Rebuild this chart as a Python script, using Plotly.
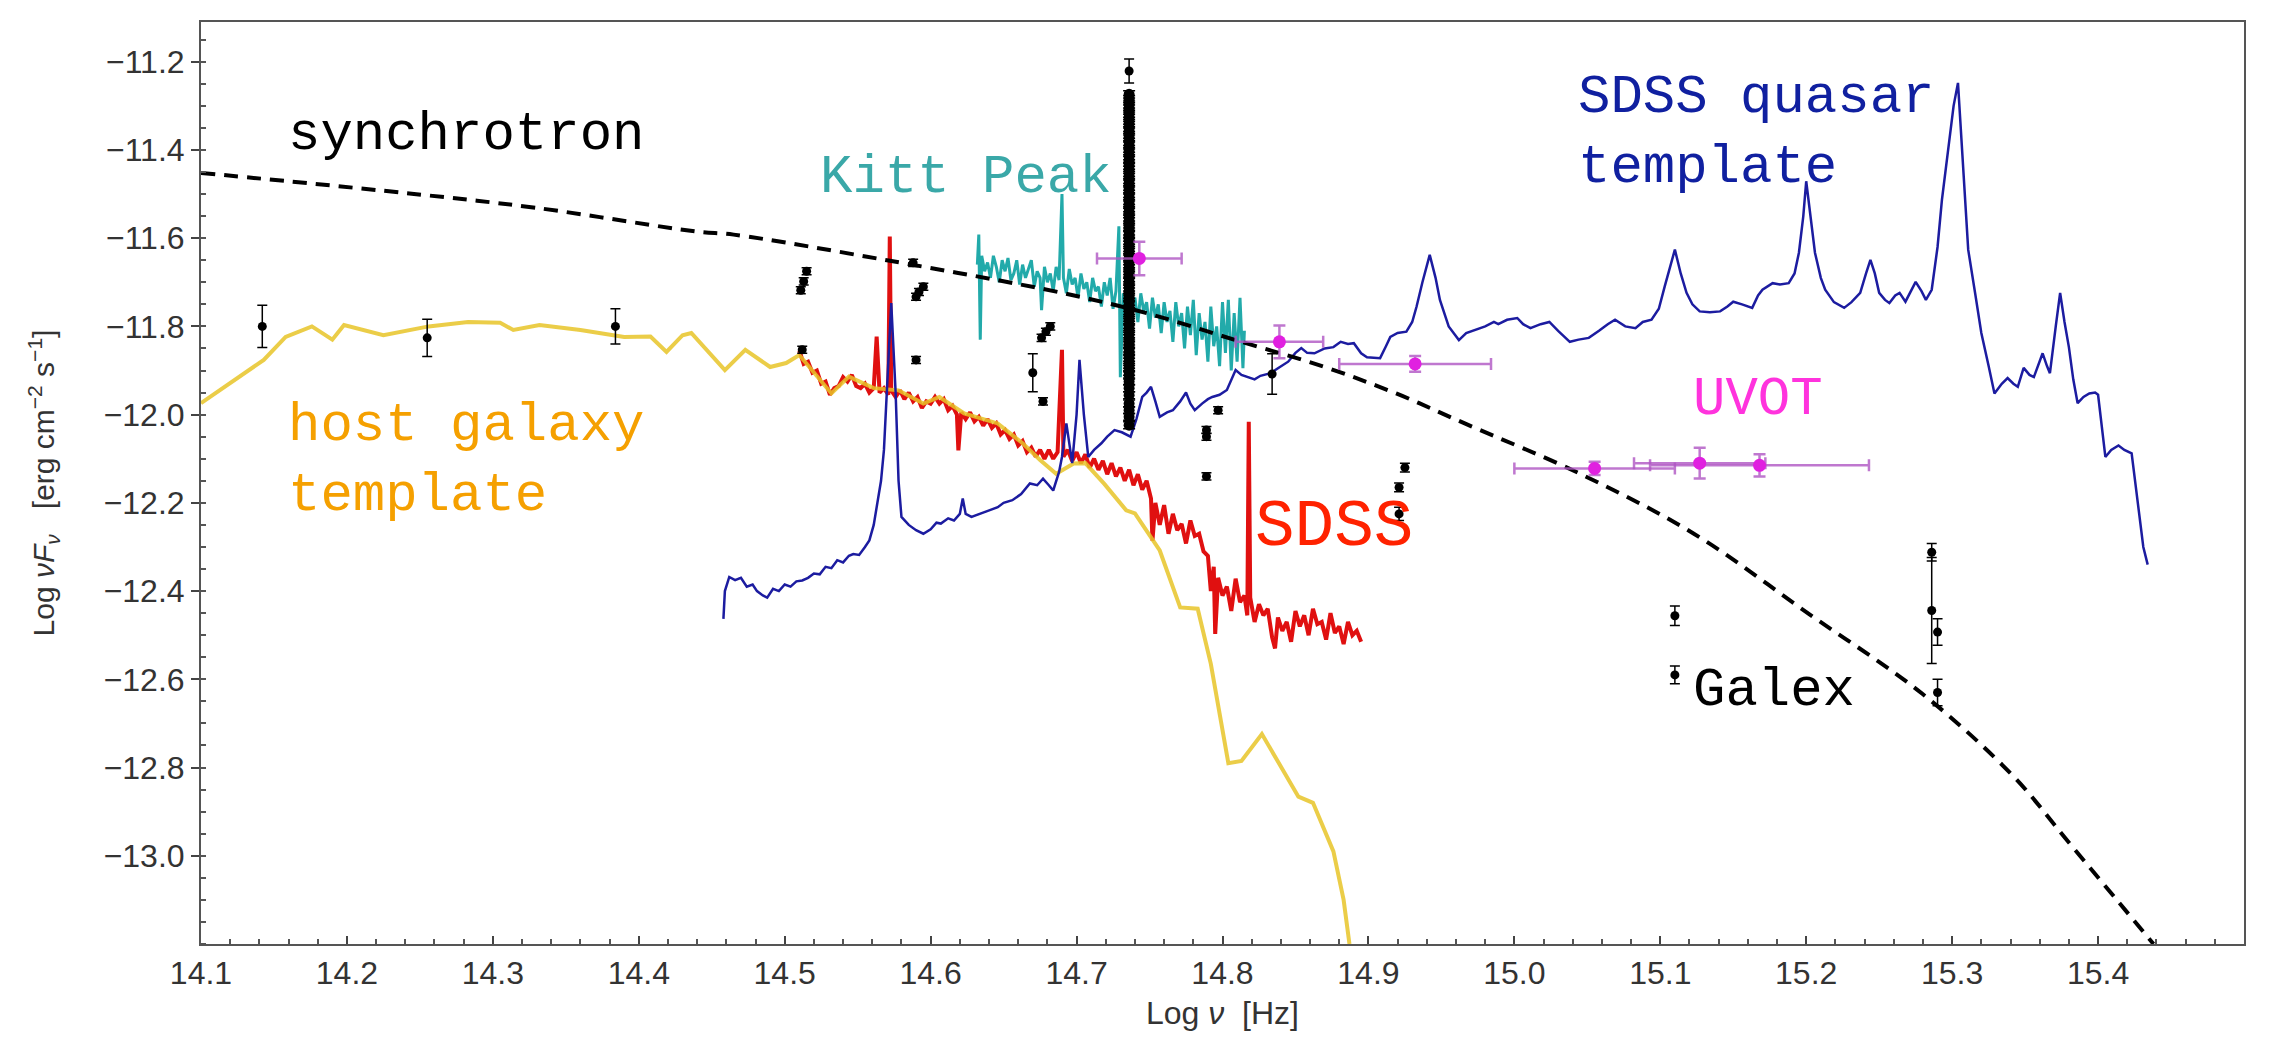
import plotly.graph_objects as go

# ---------------- data ----------------
# synchrotron model (dashed)
sync_x = [14.10, 14.238, 14.329, 14.44, 14.465, 14.57, 14.69, 14.748, 14.809, 14.87,
          14.919, 14.966, 15.045, 15.123, 15.202, 15.28, 15.342, 15.38, 15.438]
sync_y = [-11.452, -11.497, -11.531, -11.585, -11.592, -11.65, -11.724, -11.77, -11.831, -11.892,
          -11.952, -12.02, -12.134, -12.27, -12.452, -12.634, -12.82, -12.97, -13.2]

# host galaxy template (yellow)
host_x = [14.100, 14.143, 14.158, 14.176, 14.190, 14.198, 14.225, 14.256, 14.283, 14.305,
          14.314, 14.332, 14.360, 14.390, 14.408, 14.419, 14.430, 14.436, 14.459, 14.473,
          14.490, 14.501, 14.510, 14.532, 14.544, 14.561, 14.578, 14.595, 14.606, 14.623,
          14.646, 14.663, 14.675, 14.686, 14.698, 14.706, 14.719, 14.734, 14.740, 14.757,
          14.771, 14.783, 14.792, 14.804, 14.813, 14.827, 14.852, 14.862, 14.876, 14.883, 14.887]
host_y = [-11.974, -11.876, -11.824, -11.800, -11.830, -11.797, -11.820, -11.800, -11.790, -11.792,
          -11.808, -11.797, -11.808, -11.824, -11.823, -11.858, -11.820, -11.815, -11.899, -11.853,
          -11.892, -11.883, -11.865, -11.952, -11.914, -11.940, -11.945, -11.975, -11.960, -11.997,
          -12.020, -12.065, -12.103, -12.134, -12.111, -12.110, -12.157, -12.217, -12.224, -12.308,
          -12.437, -12.440, -12.565, -12.790, -12.785, -12.724, -12.866, -12.880, -12.990, -13.100, -13.200]

# SDSS spectrum (red)
sdss_x = [14.510, 14.513, 14.516, 14.519, 14.522, 14.525, 14.528, 14.531, 14.534, 14.537,
          14.540, 14.543, 14.546, 14.549, 14.552, 14.555, 14.558, 14.561, 14.563, 14.565,
          14.568, 14.571, 14.572, 14.573, 14.576, 14.579, 14.582, 14.585, 14.588, 14.591,
          14.594, 14.597, 14.600, 14.603, 14.606, 14.609, 14.612, 14.615, 14.618, 14.619,
          14.621, 14.624, 14.627, 14.630, 14.633, 14.636, 14.639, 14.642, 14.645, 14.648,
          14.651, 14.654, 14.657, 14.660, 14.663, 14.666, 14.669, 14.672, 14.675, 14.678,
          14.681, 14.684, 14.687, 14.690, 14.691, 14.694, 14.697, 14.700, 14.703, 14.706,
          14.709, 14.712, 14.715, 14.718, 14.721, 14.724, 14.727, 14.730, 14.733, 14.736,
          14.739, 14.742, 14.745, 14.748, 14.751, 14.752, 14.754, 14.757, 14.760, 14.763,
          14.766, 14.769, 14.772, 14.775, 14.778, 14.781, 14.784, 14.787, 14.790, 14.792,
          14.794, 14.795, 14.797, 14.800, 14.803, 14.806, 14.809, 14.812, 14.815, 14.817,
          14.818, 14.819, 14.822, 14.825, 14.828, 14.831, 14.834, 14.836, 14.838, 14.841,
          14.844, 14.847, 14.850, 14.853, 14.856, 14.859, 14.862, 14.865, 14.868, 14.871,
          14.874, 14.877, 14.880, 14.883, 14.886, 14.889, 14.892, 14.895]
sdss_y = [-11.855, -11.885, -11.880, -11.905, -11.900, -11.930, -11.925, -11.955, -11.940, -11.935,
          -11.915, -11.925, -11.910, -11.935, -11.940, -11.930, -11.950, -11.940, -11.823, -11.950,
          -11.940, -11.955, -11.596, -11.945, -11.960, -11.945, -11.965, -11.950, -11.970, -11.960,
          -11.985, -11.970, -11.975, -11.960, -11.975, -11.965, -11.990, -11.980, -12.000, -12.081,
          -11.995, -12.010, -11.995, -12.015, -12.005, -12.025, -12.010, -12.030, -12.020, -12.045,
          -12.035, -12.055, -12.045, -12.070, -12.060, -12.085, -12.075, -12.095, -12.080, -12.100,
          -12.080, -12.100, -12.085, -11.853, -12.095, -12.080, -12.105, -12.085, -12.110, -12.090,
          -12.120, -12.100, -12.125, -12.105, -12.135, -12.110, -12.140, -12.120, -12.150, -12.125,
          -12.160, -12.135, -12.170, -12.150, -12.190, -12.286, -12.200, -12.250, -12.205, -12.270,
          -12.225, -12.262, -12.248, -12.292, -12.240, -12.275, -12.270, -12.310, -12.320, -12.400,
          -12.345, -12.497, -12.370, -12.410, -12.390, -12.445, -12.372, -12.425, -12.410, -12.455,
          -12.016, -12.415, -12.470, -12.430, -12.455, -12.440, -12.505, -12.530, -12.460, -12.490,
          -12.470, -12.515, -12.445, -12.480, -12.455, -12.500, -12.440, -12.475, -12.470, -12.510,
          -12.450, -12.495, -12.480, -12.520, -12.470, -12.500, -12.490, -12.515]

# Kitt Peak spectrum (cyan)
kitt_x = [14.632, 14.633, 14.634, 14.635, 14.637, 14.639, 14.641, 14.643, 14.645, 14.647,
          14.649, 14.651, 14.653, 14.655, 14.657, 14.659, 14.661, 14.663, 14.665, 14.667,
          14.669, 14.671, 14.673, 14.675, 14.676, 14.678, 14.680, 14.682, 14.684, 14.686,
          14.688, 14.690, 14.691, 14.693, 14.695, 14.697, 14.699, 14.701, 14.703, 14.705,
          14.707, 14.709, 14.711, 14.713, 14.715, 14.717, 14.719, 14.721, 14.723, 14.725,
          14.727, 14.729, 14.730, 14.732, 14.734, 14.736, 14.738, 14.740, 14.742, 14.744,
          14.746, 14.748, 14.750, 14.752, 14.754, 14.756, 14.758, 14.760, 14.762, 14.764,
          14.766, 14.768, 14.770, 14.772, 14.774, 14.776, 14.778, 14.780, 14.782, 14.784,
          14.786, 14.788, 14.790, 14.792, 14.794, 14.796, 14.798, 14.800, 14.802, 14.804,
          14.806, 14.808, 14.810, 14.812, 14.814, 14.815]
kitt_y = [-11.660, -11.592, -11.830, -11.640, -11.675, -11.655, -11.690, -11.640, -11.665, -11.700,
          -11.650, -11.675, -11.645, -11.695, -11.680, -11.650, -11.705, -11.660, -11.690, -11.670,
          -11.650, -11.710, -11.675, -11.690, -11.763, -11.665, -11.700, -11.680, -11.720, -11.665,
          -11.695, -11.500, -11.690, -11.725, -11.670, -11.705, -11.690, -11.735, -11.680, -11.715,
          -11.700, -11.745, -11.690, -11.720, -11.710, -11.755, -11.700, -11.730, -11.690, -11.760,
          -11.720, -11.573, -11.915, -11.725, -11.770, -11.715, -11.745, -11.735, -11.790, -11.725,
          -11.765, -11.745, -11.805, -11.735, -11.780, -11.750, -11.815, -11.745, -11.790, -11.765,
          -11.835, -11.745, -11.800, -11.770, -11.850, -11.755, -11.820, -11.740, -11.865, -11.770,
          -11.830, -11.790, -11.880, -11.755, -11.845, -11.800, -11.890, -11.745, -11.860, -11.740,
          -11.900, -11.770, -11.880, -11.735, -11.895, -11.810]

# SDSS quasar template (blue)
qso_x = [14.458, 14.459, 14.462, 14.466, 14.470, 14.474, 14.478, 14.481, 14.485, 14.488,
         14.492, 14.496, 14.500, 14.504, 14.508, 14.512, 14.516, 14.520, 14.524, 14.528,
         14.532, 14.536, 14.540, 14.544, 14.547, 14.551, 14.555, 14.558, 14.561, 14.563,
         14.566, 14.568, 14.570, 14.573, 14.576, 14.578, 14.580, 14.585, 14.590, 14.595,
         14.600, 14.604, 14.607, 14.612, 14.616, 14.620, 14.622, 14.624, 14.628, 14.634,
         14.640, 14.646, 14.650, 14.656, 14.662, 14.668, 14.673, 14.677, 14.681, 14.684,
         14.688, 14.690, 14.693, 14.695, 14.697, 14.700, 14.702, 14.705, 14.708, 14.712,
         14.717, 14.721, 14.726, 14.731, 14.737, 14.741, 14.745, 14.748, 14.751, 14.754,
         14.757, 14.762, 14.766, 14.771, 14.775, 14.778, 14.781, 14.786, 14.790, 14.793,
         14.798, 14.803, 14.806, 14.809, 14.813, 14.818, 14.822, 14.826, 14.833, 14.838,
         14.845, 14.850, 14.854, 14.858, 14.863, 14.870, 14.876, 14.881, 14.886, 14.890,
         14.895, 14.899, 14.904, 14.908, 14.912, 14.915, 14.920, 14.926, 14.930, 14.933,
         14.937, 14.942, 14.946, 14.949, 14.955, 14.962, 14.967, 14.973, 14.980, 14.986,
         14.989, 14.995, 15.002, 15.006, 15.011, 15.018, 15.024, 15.030, 15.038, 15.044,
         15.051, 15.058, 15.064, 15.069, 15.076, 15.083, 15.088, 15.094, 15.099, 15.103,
         15.107, 15.110, 15.114, 15.118, 15.122, 15.127, 15.134, 15.141, 15.146, 15.150,
         15.156, 15.163, 15.167, 15.170, 15.177, 15.182, 15.188, 15.192, 15.195, 15.198,
         15.200, 15.203, 15.206, 15.210, 15.213, 15.219, 15.226, 15.231, 15.237, 15.241,
         15.244, 15.247, 15.250, 15.254, 15.257, 15.261, 15.264, 15.268, 15.272, 15.275,
         15.279, 15.282, 15.286, 15.290, 15.293, 15.297, 15.301, 15.304, 15.307, 15.311,
         15.316, 15.320, 15.325, 15.329, 15.334, 15.338, 15.342, 15.345, 15.349, 15.353,
         15.356, 15.360, 15.362, 15.365, 15.367, 15.371, 15.374, 15.377, 15.380, 15.383,
         15.386, 15.390, 15.394, 15.398, 15.400, 15.405, 15.409, 15.414, 15.418, 15.423,
         15.427, 15.431, 15.434]
qso_y = [-12.463, -12.400, -12.368, -12.375, -12.370, -12.390, -12.385, -12.400, -12.410, -12.415,
         -12.395, -12.400, -12.385, -12.390, -12.378, -12.376, -12.370, -12.360, -12.362, -12.345,
         -12.348, -12.330, -12.335, -12.320, -12.316, -12.318, -12.300, -12.285, -12.250, -12.210,
         -12.150, -12.080, -11.950, -11.747, -11.950, -12.150, -12.232, -12.250, -12.262, -12.270,
         -12.260, -12.245, -12.247, -12.235, -12.240, -12.225, -12.190, -12.225, -12.232, -12.225,
         -12.217, -12.210, -12.200, -12.194, -12.180, -12.156, -12.160, -12.145, -12.160, -12.172,
         -12.130, -12.096, -12.020, -12.070, -12.110, -12.000, -11.876, -12.000, -12.096, -12.080,
         -12.065, -12.050, -12.035, -12.040, -12.050, -12.010, -11.960, -11.950, -11.937, -11.970,
         -12.005, -11.995, -11.990, -11.970, -11.950, -11.975, -11.990, -11.975, -11.965, -11.960,
         -11.955, -11.944, -11.920, -11.899, -11.910, -11.915, -11.920, -11.912, -11.906, -11.895,
         -11.880, -11.860, -11.849, -11.860, -11.861, -11.850, -11.847, -11.835, -11.840, -11.838,
         -11.861, -11.870, -11.872, -11.872, -11.845, -11.824, -11.815, -11.812, -11.790, -11.755,
         -11.700, -11.638, -11.690, -11.740, -11.800, -11.831, -11.815, -11.808, -11.800, -11.790,
         -11.795, -11.785, -11.781, -11.795, -11.804, -11.795, -11.790, -11.810, -11.835, -11.830,
         -11.826, -11.810, -11.795, -11.785, -11.800, -11.804, -11.790, -11.785, -11.760, -11.710,
         -11.660, -11.626, -11.680, -11.724, -11.750, -11.766, -11.768, -11.766, -11.755, -11.744,
         -11.750, -11.758, -11.730, -11.717, -11.702, -11.705, -11.702, -11.680, -11.633, -11.550,
         -11.471, -11.550, -11.633, -11.690, -11.717, -11.745, -11.758, -11.745, -11.724, -11.680,
         -11.649, -11.680, -11.724, -11.740, -11.747, -11.730, -11.724, -11.744, -11.720, -11.699,
         -11.720, -11.740, -11.717, -11.620, -11.513, -11.400, -11.300, -11.248, -11.400, -11.626,
         -11.730, -11.815, -11.890, -11.952, -11.930, -11.917, -11.930, -11.937, -11.894, -11.910,
         -11.915, -11.880, -11.861, -11.890, -11.906, -11.800, -11.724, -11.790, -11.847, -11.920,
         -11.974, -11.960, -11.952, -11.950, -11.955, -12.096, -12.080, -12.070, -12.080, -12.088,
         -12.200, -12.300, -12.340]

# black photometric points with error bars
phot_x = [14.142, 14.255, 14.384,
          14.515, 14.513, 14.511, 14.512,
          14.588, 14.595, 14.592, 14.590, 14.590,
          14.682, 14.679, 14.676, 14.670, 14.677,
          14.736,
          14.797, 14.789, 14.789, 14.789,
          14.834,
          14.925, 14.921, 14.921,
          15.110, 15.110,
          15.286, 15.286, 15.290, 15.290]
phot_y = [-11.800, -11.826, -11.800,
          -11.675, -11.698, -11.718, -11.853,
          -11.656, -11.710, -11.722, -11.733, -11.876,
          -11.800, -11.812, -11.826, -11.905, -11.970,
          -11.221,
          -11.990, -12.035, -12.050, -12.140,
          -11.908,
          -12.120, -12.165, -12.225,
          -12.456, -12.590,
          -12.312, -12.444, -12.493, -12.630]
phot_err = [0.048, 0.042, 0.040,
            0.008, 0.008, 0.008, 0.008,
            0.008, 0.008, 0.008, 0.008, 0.008,
            0.008, 0.008, 0.008, 0.043, 0.008,
            0.027,
            0.008, 0.008, 0.008, 0.008,
            0.046,
            0.010, 0.010, 0.015,
            0.022, 0.020,
            0.020, 0.120, 0.030, 0.030]

# dense column of photometry at log nu = 14.736
stack_x = 14.736
stack_y = [-11.274, -11.285, -11.297, -11.306, -11.318, -11.327, -11.339, -11.350, -11.358, -11.371,
           -11.382, -11.390, -11.403, -11.414, -11.423, -11.436, -11.445, -11.457, -11.468, -11.476,
           -11.489, -11.500, -11.508, -11.521, -11.532, -11.540, -11.553, -11.562, -11.574, -11.585,
           -11.593, -11.606, -11.615, -11.627, -11.638, -11.646, -11.659, -11.668, -11.680, -11.691,
           -11.699, -11.712, -11.721, -11.733, -11.744, -11.752, -11.765, -11.774, -11.786, -11.797,
           -11.805, -11.818, -11.827, -11.839, -11.850, -11.858, -11.871, -11.880, -11.892, -11.903,
           -11.911, -11.925, -11.940, -11.956, -11.975, -11.990, -12.005, -12.024]

# UVOT points
uvot_x = [14.743, 14.839, 14.932, 15.055, 15.127, 15.168]
uvot_y = [-11.646, -11.835, -11.885, -12.122, -12.110, -12.115]
uvot_xerr = [0.029, 0.030, 0.052, 0.055, 0.045, 0.075]
uvot_yerr = [0.038, 0.037, 0.018, 0.015, 0.035, 0.025]

x_ticks = [14.1, 14.2, 14.3, 14.4, 14.5, 14.6, 14.7, 14.8, 14.9, 15.0, 15.1, 15.2, 15.3, 15.4, 15.5]
y_ticks = [-13.0, -12.8, -12.6, -12.4, -12.2, -12.0, -11.8, -11.6, -11.4, -11.2]

# ---------------- figure ----------------
fig = go.Figure()

fig.add_trace(go.Scatter(x=sdss_x, y=sdss_y, mode="lines",
                         line=dict(color="#e01010", width=4), hoverinfo="skip"))
fig.add_trace(go.Scatter(x=host_x, y=host_y, mode="lines",
                         line=dict(color="rgba(232,196,40,0.85)", width=4), hoverinfo="skip"))
fig.add_trace(go.Scatter(x=qso_x, y=qso_y, mode="lines",
                         line=dict(color="#1c1ca0", width=2.5), hoverinfo="skip"))
fig.add_trace(go.Scatter(x=kitt_x, y=kitt_y, mode="lines",
                         line=dict(color="#22aaaa", width=3), hoverinfo="skip"))
fig.add_trace(go.Scatter(x=sync_x, y=sync_y, mode="lines",
                         line=dict(color="black", width=4, dash="14px,9px", shape="spline"),
                         hoverinfo="skip"))
fig.add_trace(go.Scatter(x=[stack_x] * len(stack_y), y=stack_y, mode="markers",
                         marker=dict(color="black", size=11),
                         error_y=dict(type="constant", value=0.008, color="black",
                                      thickness=1.5, width=6),
                         hoverinfo="skip"))
fig.add_trace(go.Scatter(x=phot_x, y=phot_y, mode="markers",
                         marker=dict(color="black", size=9),
                         error_y=dict(type="data", array=phot_err, color="black",
                                      thickness=1.5, width=5),
                         hoverinfo="skip"))
fig.add_trace(go.Scatter(x=uvot_x, y=uvot_y, mode="markers",
                         marker=dict(color="#e020e0", size=13),
                         error_x=dict(type="data", array=uvot_xerr, color="rgba(175,85,195,0.8)",
                                      thickness=2.5, width=6),
                         error_y=dict(type="data", array=uvot_yerr, color="rgba(175,85,195,0.8)",
                                      thickness=2.5, width=6),
                         hoverinfo="skip"))

mono = "Courier New, Liberation Mono, monospace"
labels = [
    dict(x=14.158, y=-11.365, text="synchrotron", color="black", size=54),
    dict(x=14.523, y=-11.463, text="Kitt Peak", color="#3aa8a8", size=54),
    dict(x=14.158, y=-12.105, text="host galaxy<br>template", color="#f5a000", size=54),
    dict(x=15.042, y=-11.36, text="SDSS quasar<br>template", color="#1020a0", size=54),
    dict(x=15.121, y=-11.965, text="UVOT", color="#ff33dd", size=54),
    dict(x=14.821, y=-12.255, text="SDSS", color="#ff2200", size=66),
    dict(x=15.121, y=-12.625, text="Galex", color="black", size=54),
]
for lb in labels:
    fig.add_annotation(x=lb["x"], y=lb["y"], text=lb["text"], showarrow=False,
                       xanchor="left", yanchor="middle", align="left",
                       font=dict(family=mono, size=lb["size"], color=lb["color"]))

tickfont = dict(family="Liberation Sans, Arial, sans-serif", size=32, color="#333333")
axis_common = dict(showline=True, linecolor="#555555", linewidth=2, mirror=True,
                   showgrid=False, zeroline=False, ticklen=8,
                   tickwidth=2, tickcolor="#444444", tickfont=tickfont)

fig.update_xaxes(range=[14.1, 15.5], tickvals=x_ticks, tickformat=".1f", ticks="inside",
                 minor=dict(dtick=0.02, ticks="inside", ticklen=5, tickcolor="#555555", tickwidth=1.5),
                 title=dict(text="Log <i>ν</i>  [Hz]", standoff=14,
                            font=dict(family="Liberation Sans, Arial, sans-serif", size=32, color="#333333")),
                 **axis_common)
fig.update_yaxes(range=[-13.2, -11.11], tickvals=y_ticks, tickformat=".1f", ticks="outside",
                 minor=dict(dtick=0.05, ticks="inside", ticklen=5, tickcolor="#555555", tickwidth=1.5),
                 title=dict(text="Log <i>νF</i><sub><i>ν</i></sub>   [erg cm<sup>−2</sup> s<sup>−1</sup>]",
                            standoff=40,
                            font=dict(family="Liberation Sans, Arial, sans-serif", size=30, color="#333333")),
                 **axis_common)

# the page body adds an 8px margin, so the figure is sized to fit inside it
fig.update_layout(width=2258, height=1023, showlegend=False,
                  paper_bgcolor="white", plot_bgcolor="white",
                  margin=dict(l=193, r=22, t=14, b=87, autoexpand=False))

fig.write_html("out.html")
